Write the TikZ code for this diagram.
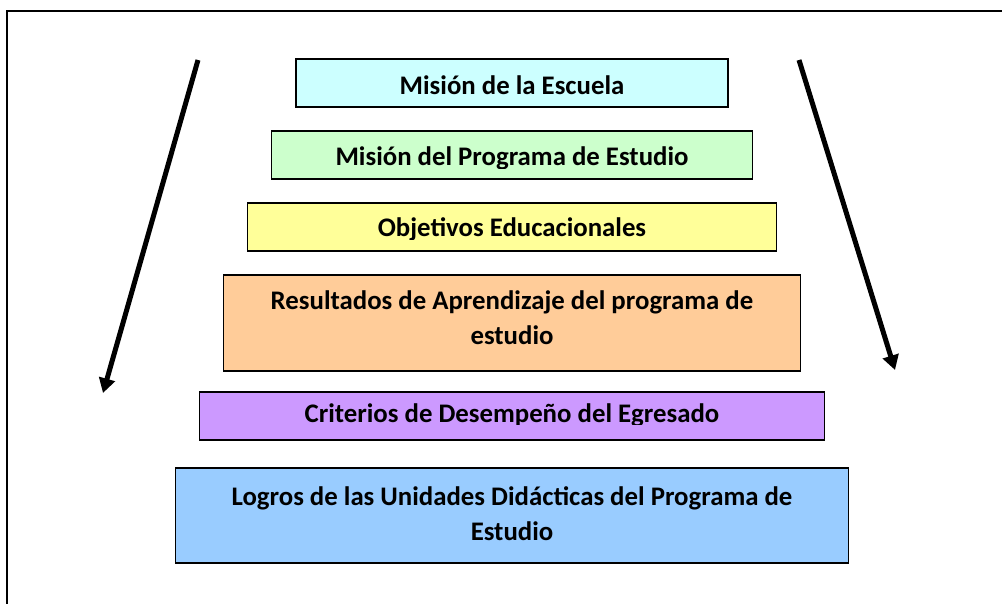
\documentclass[tikz,border=0pt]{standalone}
\usepackage{fontspec}
\setmainfont{Carlito}
\usepackage{tikz}
\usetikzlibrary{arrows.meta}

\definecolor{escuelacol}{HTML}{CCFFFF}
\definecolor{misioncol}{HTML}{CCFFCC}
\definecolor{objetivoscol}{HTML}{FFFF99}
\definecolor{resultadoscol}{HTML}{FFCC99}
\definecolor{criterioscol}{HTML}{CC99FF}
\definecolor{logroscol}{HTML}{99CCFF}

\tikzset{
  tier/.style={draw=black,line width=1.4pt,inner sep=0pt,minimum height=36pt},
  lbl/.style={font=\bfseries\fontsize{20.1}{26.25}\selectfont,anchor=base,align=center,inner sep=0pt},
  flow/.style={line width=3.75pt,-{Triangle[length=11pt,width=12pt]}}
}

\begin{document}
\begin{tikzpicture}[x=0.75pt,y=-0.75pt]
\useasboundingbox (0,0) rectangle (1002,603);
% marco
\draw[line width=1.4pt] (7,620) -- (7,11) -- (1010,11);

% escalones
\node[tier,fill=escuelacol,minimum width=324pt] (escuela) at (512,83) {};
\node[lbl] (escuela-txt) at (512,94) {Misión de la Escuela};

\node[tier,fill=misioncol,minimum width=360.75pt] (mision) at (512,155) {};
\begin{scope}
\clip (271,131) rectangle (752,168);
\node[lbl] (mision-txt) at (512,165) {Misión del Programa de Estudio};
\end{scope}

\node[tier,fill=objetivoscol,minimum width=396.75pt] (objetivos) at (512,227) {};
\begin{scope}
\clip (247,203) rectangle (776,239);
\node[lbl] (objetivos-txt) at (512,236) {Objetivos Educacionales};
\end{scope}

% en nodos de dos lineas la base es la de la ultima linea
\node[tier,fill=resultadoscol,minimum width=432.75pt,minimum height=72pt] (resultados) at (512,323) {};
\node[lbl] (resultados-txt) at (512,344) {Resultados de Aprendizaje del programa de\\estudio};

\node[tier,fill=criterioscol,minimum width=468.75pt] (criterios) at (512,416) {};
\begin{scope}
\clip (199,392) rectangle (824,424);
\node[lbl] (criterios-txt) at (512,422) {Criterios de Desempeño del Egresado};
\end{scope}

\node[tier,fill=logroscol,minimum width=504.75pt,minimum height=71.25pt] (logros) at (512,515.5) {};
\node[lbl] (logros-txt) at (512,540) {Logros de las Unidades Didácticas del Programa de\\Estudio};

% flechas
\coordinate (izq-ini) at (198,60);
\coordinate (izq-fin) at (103,393);
\coordinate (der-ini) at (799,60);
\coordinate (der-fin) at (895,370);
\draw[flow] (izq-ini) -- (izq-fin);
\draw[flow] (der-ini) -- (der-fin);
\end{tikzpicture}
\end{document}
